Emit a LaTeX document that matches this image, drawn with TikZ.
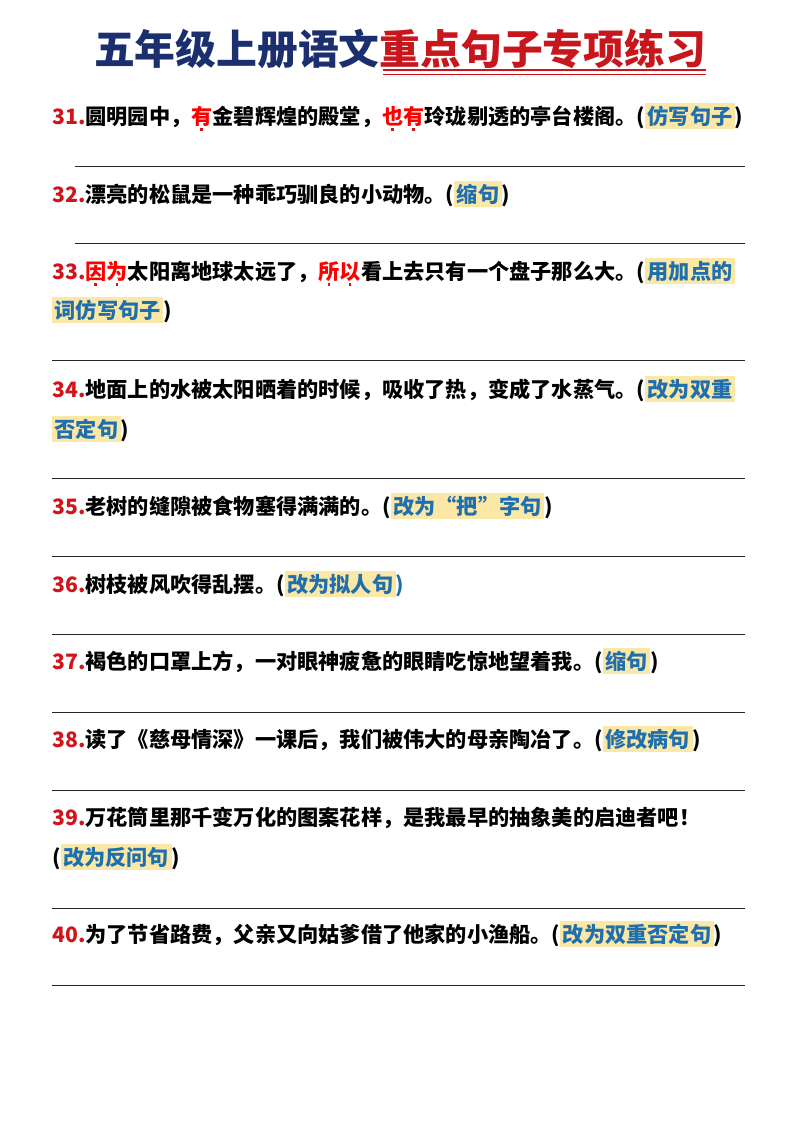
\documentclass[tikz,border=0pt]{standalone}
\usepackage{fontspec}
\setmainfont{Noto Sans CJK SC}
\definecolor{tblue}{HTML}{1B2F6E}
\definecolor{tred}{HTML}{C8161D}
\definecolor{nred}{HTML}{D0141B}
\definecolor{hlc}{HTML}{FBE7A6}
\definecolor{hblue}{HTML}{1F6FAE}
\newcommand{\hlx}[1]{{\setlength{\fboxsep}{2.5pt}\colorbox{hlc}{\textcolor{hblue}{#1}}}}
\newcommand{\nm}[1]{\textcolor{nred}{#1}}
\newcommand{\dtc}[1]{\rlap{\hspace{0.42em}\raisebox{-0.32em}{\textcolor{nred}{\rule{2.4pt}{2.4pt}}}}\textcolor{red}{#1}}
\tikzset{ln/.style={anchor=base west,inner sep=0pt,font=\fontsize{21.2}{24}\bfseries\selectfont},
 rule/.style={line width=0.9pt,black!85}}
\begin{document}
\begin{tikzpicture}[x=1pt,y=-1pt]
\fill[white] (0,0) rectangle (800,1132);
\useasboundingbox (0,0) rectangle (800,1132);
\node[anchor=base,inner sep=0pt,font=\fontsize{40.8}{42}\bfseries\selectfont] (title) at (400,64) {\textcolor{tblue}{五年级上册语文}\textcolor{tred}{重点句子专项练习}};
\draw[tred,line width=1.4pt] (383,70) -- (706,70);
\draw[tred,line width=1.4pt] (383,74.5) -- (706,74.5);
\node[ln] (a31) at (52,124) {\nm{31.}圆明园中，\dtc{有}金碧辉煌的殿堂，\dtc{也}\dtc{有}玲珑剔透的亭台楼阁。(\hlx{仿写句子})};
\draw[rule] (75,166) -- (745,166);
\node[ln] (a32) at (52,202) {\nm{32.}漂亮的松鼠是一种乖巧驯良的小动物。(\hlx{缩句})};
\draw[rule] (75,243) -- (745,243);
\node[ln] (a33) at (52,279) {\nm{33.}\dtc{因}\dtc{为}太阳离地球太远了，\dtc{所}\dtc{以}看上去只有一个盘子那么大。(\hlx{用加点的}};
\node[ln] (b33) at (52,318) {\hlx{词仿写句子})};
\draw[rule] (52,360) -- (745,360);
\node[ln] (a34) at (52,397) {\nm{34.}地面上的水被太阳晒着的时候，吸收了热，变成了水蒸气。(\hlx{改为双重}};
\node[ln] (b34) at (52,437) {\hlx{否定句})};
\draw[rule] (52,478) -- (745,478);
\node[ln] (a35) at (52,514) {\nm{35.}老树的缝隙被食物塞得满满的。(\hlx{改为“把”字句})};
\draw[rule] (52,556) -- (745,556);
\node[ln] (a36) at (52,592) {\nm{36.}树枝被风吹得乱摆。(\hlx{改为拟人句}\textcolor{hblue}{)}};
\draw[rule] (52,634) -- (745,634);
\node[ln] (a37) at (52,669) {\nm{37.}褐色的口罩上方，一对眼神疲惫的眼睛吃惊地望着我。(\hlx{缩句})};
\draw[rule] (52,712) -- (745,712);
\node[ln] (a38) at (52,747) {\nm{38.}读了《慈母情深》一课后，我们被伟大的母亲陶冶了。(\hlx{修改病句})};
\draw[rule] (52,790) -- (745,790);
\node[ln] (a39) at (52,825) {\nm{39.}万花筒里那千变万化的图案花样，是我最早的抽象美的启迪者吧！};
\node[ln] (b39) at (52,865) {(\hlx{改为反问句})};
\draw[rule] (52,908) -- (745,908);
\node[ln] (a40) at (52,942) {\nm{40.}为了节省路费，父亲又向姑爹借了他家的小渔船。(\hlx{改为双重否定句})};
\draw[rule] (52,985) -- (745,985);
\end{tikzpicture}
\end{document}
